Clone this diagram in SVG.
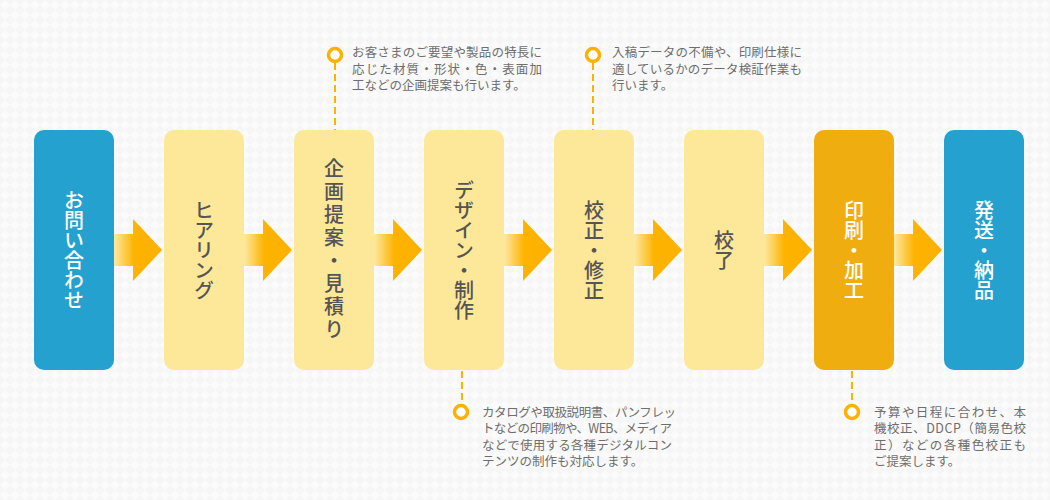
<svg xmlns="http://www.w3.org/2000/svg" width="1050" height="500" viewBox="0 0 1050 500">
<style>
.node{font-family:"Noto Sans CJK JP","Noto Sans",sans-serif;font-size:20px;font-weight:500;writing-mode:vertical-rl;text-anchor:middle}
.dark{fill:#555555}
.light{fill:#ffffff}
.note{font-family:"Noto Sans CJK JP","Noto Sans",sans-serif;font-size:12.5px;fill:#6e6e6e}
.dash{stroke:#fbb200;stroke-width:2;stroke-dasharray:7 4;fill:none}
.dot{fill:#ffffff;stroke:#fbb200;stroke-width:3.5}
.arrow{fill:url(#ag)}
</style>
<defs>
<pattern id="bg" width="10" height="10" patternUnits="userSpaceOnUse">
<rect width="10" height="10" fill="#f6f6f6"/>
<path d="M5,0 L10,5 L5,10 L0,5 Z" fill="#fbfbfb"/>
</pattern>
<linearGradient id="ag" x1="0" y1="0" x2="1" y2="0">
<stop offset="0" stop-color="#fee9a2"/>
<stop offset="0.42" stop-color="#fdb300"/>
<stop offset="1" stop-color="#fdb000"/>
</linearGradient>
</defs>
<rect width="1050" height="500" fill="url(#bg)"/>

<g id="connectors">
<path class="arrow" d="M114,234 H133 V219 L162,250 L133,281 V266 H114 Z"/>
<path class="arrow" d="M244,234 H263 V219 L292,250 L263,281 V266 H244 Z"/>
<path class="arrow" d="M374,234 H393 V219 L422,250 L393,281 V266 H374 Z"/>
<path class="arrow" d="M504,234 H523 V219 L552,250 L523,281 V266 H504 Z"/>
<path class="arrow" d="M634,234 H653 V219 L682,250 L653,281 V266 H634 Z"/>
<path class="arrow" d="M764,234 H783 V219 L812,250 L783,281 V266 H764 Z"/>
<path class="arrow" d="M894,234 H913 V219 L942,250 L913,281 V266 H894 Z"/>
<line class="dash" x1="335" y1="63" x2="335" y2="130"/>
<line class="dash" x1="593" y1="63" x2="593" y2="130"/>
<line class="dash" x1="462" y1="371" x2="462" y2="404"/>
<line class="dash" x1="852" y1="371" x2="852" y2="404"/>
<circle class="dot" cx="335" cy="55" r="6.5"/>
<circle class="dot" cx="593" cy="55" r="6.5"/>
<circle class="dot" cx="461" cy="412" r="6.5"/>
<circle class="dot" cx="852" cy="412" r="6.5"/>
</g>

<g id="n1"><rect x="34" y="130" width="80" height="240" rx="10" fill="#25a1cf"/><text class="node light" x="74" y="250">お問い合わせ</text></g>
<g id="n2"><rect x="164" y="130" width="80" height="240" rx="10" fill="#fde899"/><text class="node dark" x="204" y="250">ヒアリング</text></g>
<g id="n3"><rect x="294" y="130" width="80" height="240" rx="10" fill="#fde899"/><text class="node dark" x="334" y="250" style="letter-spacing:3px">企画提案・見積り</text></g>
<g id="n4"><rect x="424" y="130" width="80" height="240" rx="10" fill="#fde899"/><text class="node dark" x="464" y="250">デザイン・制作</text></g>
<g id="n5"><rect x="554" y="130" width="80" height="240" rx="10" fill="#fde899"/><text class="node dark" x="594" y="250">校正・修正</text></g>
<g id="n6"><rect x="684" y="130" width="80" height="240" rx="10" fill="#fde899"/><text class="node dark" x="724" y="250">校了</text></g>
<g id="n7"><rect x="814" y="130" width="80" height="240" rx="10" fill="#f0ad10"/><text class="node light" x="854" y="250">印刷・加工</text></g>
<g id="n8"><rect x="944" y="130" width="80" height="240" rx="10" fill="#25a1cf"/><text class="node light" x="984" y="250">発送・納品</text></g>

<g id="note1">
<text class="note" x="352" y="57" textLength="190" lengthAdjust="spacing">お客さまのご要望や製品の特長に</text>
<text class="note" x="352" y="74" textLength="190" lengthAdjust="spacing">応じた材質・形状・色・表面加</text>
<text class="note" x="352" y="90">工などの企画提案も行います。</text>
</g>
<g id="note2">
<text class="note" x="612" y="57" textLength="190" lengthAdjust="spacing">入稿データの不備や、印刷仕様に</text>
<text class="note" x="612" y="74" textLength="190" lengthAdjust="spacing">適しているかのデータ検証作業も</text>
<text class="note" x="612" y="90">行います。</text>
</g>
<g id="note3">
<text class="note" x="482" y="417" textLength="194" lengthAdjust="spacing">カタログや取扱説明書、パンフレッ</text>
<text class="note" x="482" y="433" textLength="190" lengthAdjust="spacing">トなどの印刷物や、WEB、メディア</text>
<text class="note" x="482" y="450" textLength="190" lengthAdjust="spacing">などで使用する各種デジタルコン</text>
<text class="note" x="482" y="466">テンツの制作も対応します。</text>
</g>
<g id="note4">
<text class="note" x="874" y="417" textLength="152" lengthAdjust="spacing">予算や日程に合わせ、本</text>
<text class="note" x="874" y="433" textLength="152" lengthAdjust="spacing">機校正、DDCP（簡易色校</text>
<text class="note" x="874" y="450" textLength="152" lengthAdjust="spacing">正）などの各種色校正も</text>
<text class="note" x="874" y="466">ご提案します。</text>
</g>
</svg>
